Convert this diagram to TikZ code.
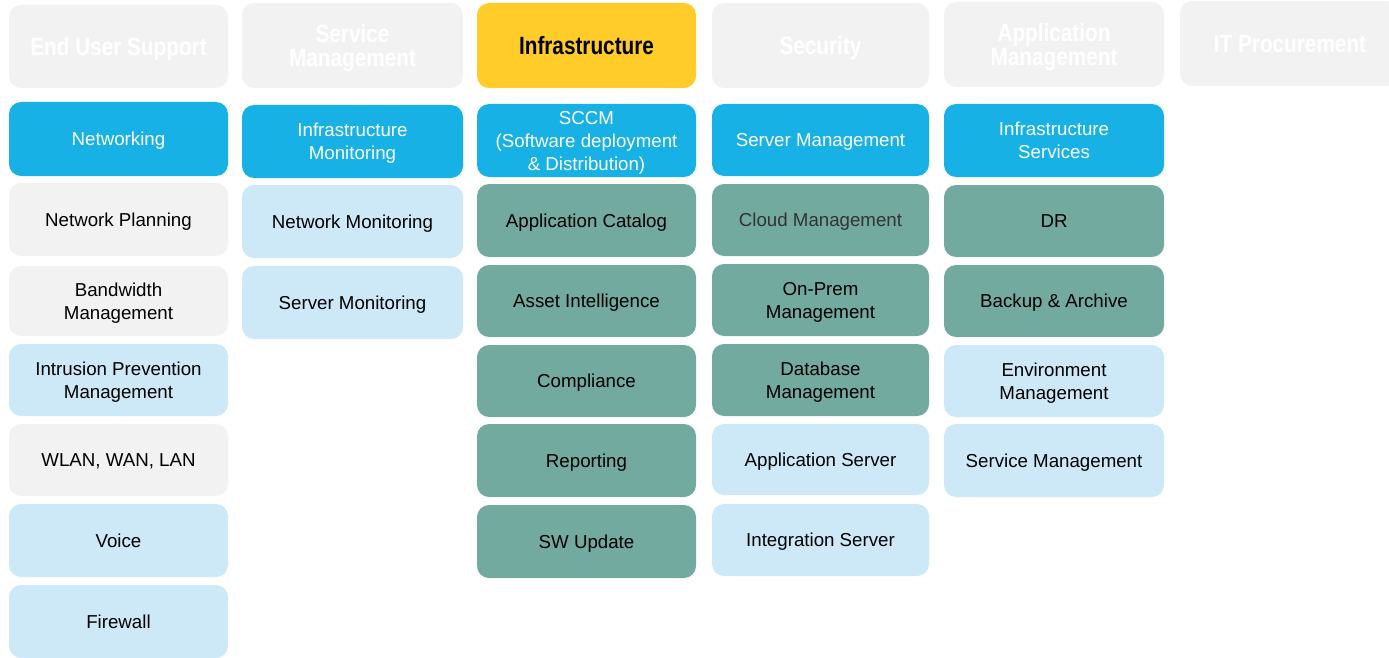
\documentclass[tikz,border=0pt]{standalone}
\usepackage{fontspec}
\setmainfont{Liberation Sans}
\newfontfamily\hdfont[FakeStretch=0.83]{Liberation Sans}
\definecolor{hgray}{HTML}{F2F2F2}
\definecolor{cblue}{HTML}{17B1E5}
\definecolor{lblue}{HTML}{CDE9F7}
\definecolor{lgray}{HTML}{F2F2F2}
\definecolor{teal2}{HTML}{72AAA0}
\definecolor{yel}{HTML}{FFCC29}
\definecolor{dtext}{HTML}{333333}
\tikzset{
  bxbase/.style={rounded corners=12pt, inner sep=0pt, align=center, draw=none, text depth=0pt},
  sz/.style 2 args={minimum width=#1pt, minimum height=#2pt},
  hdr/.style={bxbase, fill=hgray, text=white, font=\hdfont\bfseries\fontsize{25}{24}\selectfont},
  hdrsel/.style={bxbase, fill=yel, text=black, font=\hdfont\bfseries\fontsize{25}{24}\selectfont},
  body/.style={bxbase, font=\fontsize{18.7}{23}\selectfont},
  bluebx/.style={body, fill=cblue, text=white},
  lbluebx/.style={body, fill=lblue, text=black},
  graybx/.style={body, fill=lgray, text=black},
  tealbx/.style={body, fill=teal2, text=black},
}
\begin{document}
\begin{tikzpicture}[x=1pt,y=-1pt]
\useasboundingbox (0,0) rectangle (1389,658);
\clip (0,0) rectangle (1389,658);
% headers
\node[hdr, sz={219}{83}] (h1) at (118.5,46.5) {End User Support};
\node[hdr, sz={221}{85}] (h2) at (352.5,45.5) {Service\\Management};
\node[hdrsel, sz={219}{85}] (h3) at (586.5,45.5) {Infrastructure};
\node[hdr, sz={217}{85}] (h4) at (820.5,45.5) {Security};
\node[hdr, sz={220}{85}] (h5) at (1054,44.5) {Application\\Management};
\node[hdr, sz={220}{85}] (h6) at (1290,43.5) {IT Procurement};
% column 1
\node[bluebx, sz={219}{74}] (a1) at (118.5,139) {Networking};
\node[graybx, sz={219}{73}] (a2) at (118.5,219.5) {Network Planning};
\node[graybx, sz={219}{70}] (a3) at (118.5,301) {Bandwidth\\Management};
\node[lbluebx, sz={219}{72}] (a4) at (118.5,380) {Intrusion Prevention\\Management};
\node[graybx, sz={219}{72}] (a5) at (118.5,460) {WLAN, WAN, LAN};
\node[lbluebx, sz={219}{73}] (a6) at (118.5,540.5) {Voice};
\node[lbluebx, sz={219}{73}] (a7) at (118.5,621.5) {Firewall};
% column 2
\node[bluebx, sz={221}{73}] (b1) at (352.5,141.5) {Infrastructure\\Monitoring};
\node[lbluebx, sz={221}{73}] (b2) at (352.5,221.5) {Network Monitoring};
\node[lbluebx, sz={221}{73}] (b3) at (352.5,302.5) {Server Monitoring};
% column 3
\node[bluebx, sz={219}{73}] (c1) at (586.5,140.5) {SCCM\\(Software deployment\\\& Distribution)};
\node[tealbx, sz={219}{73}] (c2) at (586.5,220.5) {Application Catalog};
\node[tealbx, sz={219}{72}] (c3) at (586.5,301) {Asset Intelligence};
\node[tealbx, sz={219}{72}] (c4) at (586.5,381) {Compliance};
\node[tealbx, sz={219}{73}] (c5) at (586.5,460.5) {Reporting};
\node[tealbx, sz={219}{73}] (c6) at (586.5,541.5) {SW Update};
% column 4
\node[bluebx, sz={217}{72}] (d1) at (820.5,140) {Server Management};
\node[tealbx, sz={217}{72}, text=dtext] (d2) at (820.5,220) {Cloud Management};
\node[tealbx, sz={217}{72}] (d3) at (820.5,300) {On-Prem\\Management};
\node[tealbx, sz={217}{72}] (d4) at (820.5,380) {Database\\Management};
\node[lbluebx, sz={217}{71}] (d5) at (820.5,459.5) {Application Server};
\node[lbluebx, sz={217}{72}] (d6) at (820.5,540) {Integration Server};
% column 5
\node[bluebx, sz={220}{73}] (e1) at (1054,140.5) {Infrastructure\\Services};
\node[tealbx, sz={220}{72}] (e2) at (1054,221) {DR};
\node[tealbx, sz={220}{72}] (e3) at (1054,301) {Backup \& Archive};
\node[lbluebx, sz={220}{72}] (e4) at (1054,381) {Environment\\Management};
\node[lbluebx, sz={220}{73}] (e5) at (1054,460.5) {Service Management};
\end{tikzpicture}
\end{document}
